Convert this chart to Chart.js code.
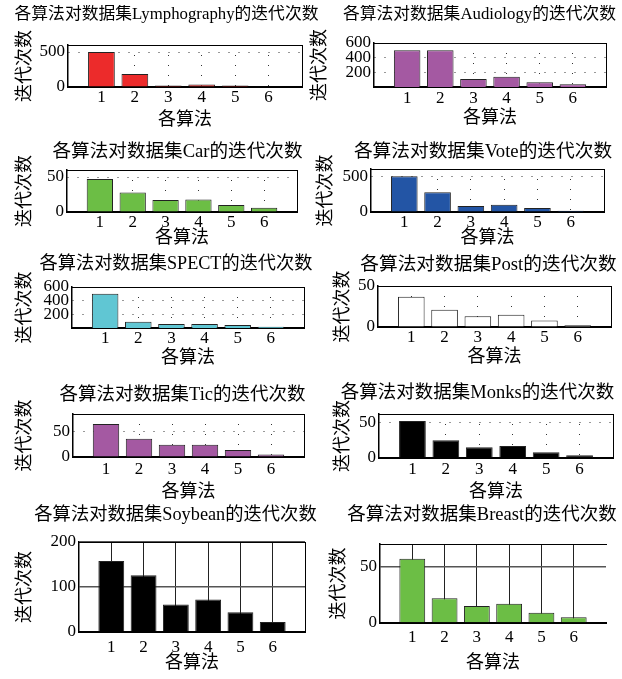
<!DOCTYPE html>
<html>
<head>
<meta charset="utf-8">
<script src="https://cdn.jsdelivr.net/npm/chart.js@4.4.0/dist/chart.umd.min.js"></script>
<style>
  html, body { margin: 0; padding: 0; background: #fff; overflow: hidden; width: 622px; height: 679px; }
  canvas { position: absolute; left: 0; }
</style>
</head>
<body>
<script>
// x axis: algorithm number
var algorithms = [1, 2, 3, 4, 5, 6];

// iterations per data set
var lymphography = [500, 185, 20, 35, 20, 10];
var audiology = [500, 500, 110, 140, 65, 38];
var car = [47, 28, 17, 18, 10, 6];
var vote = [500, 275, 85, 100, 55, 18];
var spect = [500, 90, 57, 60, 43, 20];
var post = [37, 21, 13, 15, 8, 2];
var tic = [65, 36, 24, 24, 14, 5];
var monks = [52, 25, 15, 17, 8, 4];
var soybean = [158, 126, 61, 72, 44, 22];
var breast = [57, 22, 15, 17, 9, 5];

// y tick labels
var ticks0500 = [0, 500];
var ticks200 = [200, 400, 600];
var ticks050 = [0, 50];
var ticks0100 = [0, 100, 200];

var panels = [
  {name: 'Lymphography', values: lymphography, yMax: 600, yTicks: ticks0500, color: '#ec2b2b'},
  {name: 'Audiology', values: audiology, yMax: 600, yTicks: ticks200, color: '#a459a2'},
  {name: 'Car', values: car, yMax: 60, yTicks: ticks050, color: '#6cbe45'},
  {name: 'Vote', values: vote, yMax: 600, yTicks: ticks0500, color: '#2355a5'},
  {name: 'SPECT', values: spect, yMax: 600, yTicks: ticks200, color: '#60c6d3'},
  {name: 'Post', values: post, yMax: 50, yTicks: ticks050, color: '#ffffff'},
  {name: 'Tic', values: tic, yMax: 85, yTicks: ticks050, color: '#a459a2'},
  {name: 'Monks', values: monks, yMax: 62, yTicks: ticks050, color: '#000000'},
  {name: 'Soybean', values: soybean, yMax: 200, yTicks: ticks0100, color: '#000000', solid: true},
  {name: 'Breast', values: breast, yMax: 70, yTicks: ticks050, color: '#6cbe45', solid: true, noRight: true}
];

// layout: plot box [left, top, right, bottom], title centre, y-title x, x-title y, x tick pad, title size
var layouts = [
  {box: [68, 45, 302, 87], tx: 166.5, ty: 15, yx: 25, xy: 120, xp: 0, ts: 16.8},
  {box: [374, 43, 606, 87], tx: 479.5, ty: 15, yx: 320, xy: 118, xp: 1, ts: 16.8},
  {box: [67, 170, 297, 212], tx: 177.5, ty: 152, yx: 25, xy: 238, xp: 0, ts: 18.6},
  {box: [371, 169, 604, 212], tx: 483, ty: 152, yx: 326, xy: 238, xp: 0, ts: 18.7},
  {box: [72, 287, 304, 328], tx: 176, ty: 264, yx: 25, xy: 358, xp: 0, ts: 18.2},
  {box: [378, 286, 611, 327], tx: 488.5, ty: 265, yx: 343, xy: 357, xp: 0, ts: 18.7},
  {box: [73, 414, 304, 457], tx: 182.5, ty: 395, yx: 25, xy: 492, xp: 2, ts: 18.5},
  {box: [379, 414, 613, 458], tx: 477.5, ty: 393, yx: 343, xy: 492, xp: 1, ts: 18.5},
  {box: [79, 542, 305, 632], tx: 175.5, ty: 515, yx: 25, xy: 663, xp: 5, ts: 18.3},
  {box: [380, 544, 606, 623], tx: 482, ty: 515, yx: 339, xy: 663, xp: 4, ts: 18.5}
];

var CANVAS_W = 680;
var TICK = 17, AXT = 18;

Chart.defaults.font.family = "'Liberation Serif', 'Noto Sans CJK SC', serif";
Chart.defaults.color = '#000';

function makeChart(p, lay) {
  var L = lay.box[0], T = lay.box[1], R = lay.box[2], B = lay.box[3];
  var top = Math.round(lay.ty - 0.6 * lay.ts);
  var bottom = Math.round(lay.xy + 0.6 * AXT);
  var padL = Math.min(lay.yx - 0.6 * AXT - 1, 2 * lay.tx - R);
  var rightW = 2 * lay.tx - padL - R;

  var canvas = document.createElement('canvas');
  canvas.width = CANVAS_W;
  canvas.height = bottom - top;
  canvas.style.top = top + 'px';
  document.body.appendChild(canvas);

  var dash = p.solid ? [] : [1, 9];
  var vColor = p.solid ? '#222' : '#333';
  var hColor = p.solid ? '#555' : '#333';
  var hWidth = p.solid ? 1.5 : 1;

  new Chart(canvas.getContext('2d'), {
    type: 'bar',
    data: {
      datasets: [{
        data: algorithms.map(function (a, i) { return {x: a, y: p.values[i]}; }),
        backgroundColor: p.color,
        borderColor: '#222',
        borderWidth: 1,
        barPercentage: 0.8,
        categoryPercentage: 1,
        xAxisID: 'x',
        yAxisID: 'y'
      }]
    },
    options: {
      responsive: false,
      animation: false,
      devicePixelRatio: 1,
      layout: {padding: {left: padL, right: CANVAS_W - R - rightW, top: 0, bottom: 0}},
      plugins: {
        legend: {display: false},
        tooltip: {enabled: false},
        title: {
          display: true,
          text: '各算法对数据集' + p.name + '的迭代次数',
          font: {size: lay.ts, weight: 'normal'},
          color: '#000',
          padding: {top: 0, bottom: T - top - 1.2 * lay.ts}
        }
      },
      scales: {
        x: {
          type: 'linear', min: 0, max: 7, offset: false,
          ticks: {stepSize: 1, padding: lay.xp, font: {size: TICK}, color: '#000', autoSkip: false},
          afterBuildTicks: function (s) { s.ticks = algorithms.map(function (v) { return {value: v}; }); },
          afterFit: function (s) { s.height = bottom - B; },
          grid: {color: vColor, lineWidth: 1, drawTicks: false, offset: false},
          border: {display: true, color: '#000', width: 2, dash: dash},
          title: {display: true, text: '各算法', font: {size: AXT}, color: '#000', padding: {top: 0, bottom: 0}}
        },
        y: {
          type: 'linear', min: 0, max: p.yMax,
          ticks: {padding: 3, font: {size: TICK}, color: '#000', autoSkip: false},
          afterBuildTicks: function (s) { s.ticks = p.yTicks.map(function (v) { return {value: v}; }); },
          afterFit: function (s) { s.width = L - padL; },
          grid: {color: hColor, lineWidth: hWidth, drawTicks: false},
          border: {display: true, color: '#000', width: 1.5, dash: dash},
          title: {display: true, text: '迭代次数', font: {size: AXT}, color: '#000',
                  padding: {top: lay.yx - padL - 0.6 * AXT, bottom: 0}}
        },
        // plain axes giving the top and right edges of the box
        x2: {
          type: 'linear', position: 'top', display: true,
          grid: {display: false}, ticks: {display: false},
          border: {display: true, color: '#000', width: 1},
          afterFit: function (s) { s.height = 0; }
        },
        y2: {
          type: 'linear', position: 'right', display: true,
          grid: {display: false}, ticks: {display: false},
          border: {display: !p.noRight, color: '#000', width: 1},
          afterFit: function (s) { s.width = rightW; }
        }
      }
    }
  });
}

panels.forEach(function (p, i) { makeChart(p, layouts[i]); });
</script>
</body>
</html>
